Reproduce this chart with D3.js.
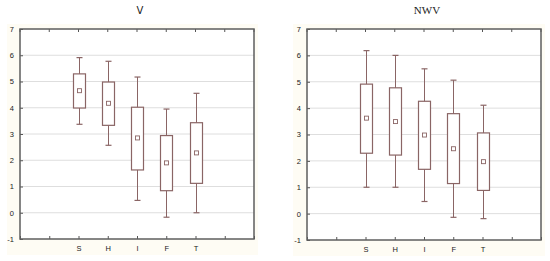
<!DOCTYPE html>
<html>
<head>
<meta charset="utf-8">
<script src="https://cdn.jsdelivr.net/npm/d3@7"></script>
<style>
  body { margin:0; background:#fff; }
  svg { display:block; }
</style>
</head>
<body>
<div id="chart-area"></div>
<script>
// data
var groups = ["S", "H", "I", "F", "T"];
var yTicks = [-1, 0, 1, 2, 3, 4, 5, 6, 7];

// V panel: [whisker low, box low, mean, box high, whisker high]
var vLow     = [3.37, 2.57, 0.47, -0.17, 0.00];
var vQ1      = [3.99, 3.33, 1.63, 0.84, 1.12];
var vMean    = [4.65, 4.17, 2.85, 1.90, 2.28];
var vQ3      = [5.29, 4.98, 4.02, 2.94, 3.43];
var vHigh    = [5.91, 5.77, 5.17, 3.95, 4.55];

// NWV panel
var nLow     = [1.00, 1.00, 0.46, -0.14, -0.19];
var nQ1      = [2.29, 2.22, 1.68, 1.14, 0.88];
var nMean    = [3.62, 3.49, 2.98, 2.46, 1.97];
var nQ3      = [4.91, 4.77, 4.26, 3.79, 3.06];
var nHigh    = [6.18, 6.00, 5.49, 5.06, 4.11];

var svg = d3.select("#chart-area").append("svg")
    .attr("width", 550).attr("height", 261);

var panels = [
  {title:"V", left:20, right:254, top:29, bottom:239,
   bg:[7, 24, 251, 231], low:vLow, q1:vQ1, mean:vMean, q3:vQ3, high:vHigh},
  {title:"NWV", left:307, right:541, top:29, bottom:240,
   bg:[293, 24, 252, 232], low:nLow, q1:nQ1, mean:nMean, q3:nQ3, high:nHigh}
];

panels.forEach(function(p){
  var g = svg.append("g");

  // faint page tint behind the plot
  g.append("rect")
    .attr("x", p.bg[0]).attr("y", p.bg[1])
    .attr("width", p.bg[2]).attr("height", p.bg[3])
    .attr("fill", "#fefcf4");

  var x = d3.scaleLinear().domain([0, 8]).range([p.left, p.right]);
  var y = d3.scaleLinear().domain([-1, 7]).range([p.bottom, p.top]);

  g.append("rect")
    .attr("x", p.left).attr("y", p.top)
    .attr("width", p.right - p.left).attr("height", p.bottom - p.top)
    .attr("fill", "#fff");

  // grid
  g.selectAll(".grid").data(yTicks.slice(1, -1)).enter()
    .append("line")
    .attr("x1", p.left).attr("x2", p.right)
    .attr("y1", function(d){ return y(d); }).attr("y2", function(d){ return y(d); })
    .attr("stroke", "#dedede").attr("stroke-width", 1);

  // y axis
  var leftAxis = d3.axisLeft(y).tickValues(yTicks).tickSize(-3).tickPadding(6)
      .tickFormat(function(d){ return String(d); });
  var ya = g.append("g").attr("transform", "translate(" + p.left + ",0)").call(leftAxis);
  ya.select(".domain").remove();
  ya.selectAll("line").attr("stroke", "#555");
  ya.selectAll("text").attr("font-size", "7.5px").attr("font-family", "'Liberation Sans', Arial, sans-serif")
    .attr("fill", "#222");

  // x axis
  var xIdx = d3.range(0, 9);
  var bottomAxis = d3.axisBottom(x).tickValues(xIdx).tickSize(-3).tickPadding(7)
      .tickFormat(function(d){ return (d >= 2 && d <= 6) ? groups[d - 2] : ""; });
  var xa = g.append("g").attr("transform", "translate(0," + p.bottom + ")").call(bottomAxis);
  xa.select(".domain").remove();
  xa.selectAll("line").attr("stroke", "#555");
  xa.selectAll("text").attr("font-size", "7.5px").attr("font-family", "'Liberation Sans', Arial, sans-serif")
    .attr("fill", "#222");

  // top ticks
  g.selectAll(".ttick").data(xIdx).enter().append("line")
    .attr("x1", function(d){ return x(d); }).attr("x2", function(d){ return x(d); })
    .attr("y1", p.top).attr("y2", p.top + 3)
    .attr("stroke", "#555");

  // frame
  g.append("rect")
    .attr("x", p.left).attr("y", p.top)
    .attr("width", p.right - p.left).attr("height", p.bottom - p.top)
    .attr("fill", "none").attr("stroke", "#5e5e5e").attr("stroke-width", 1.5);

  // boxes
  var col = "#8a6565";
  var bw = 12, cw = 6;
  groups.forEach(function(name, i){
    var cx = Math.round(x(i + 2)) + 0.5;
    // whisker
    g.append("line").attr("x1", cx).attr("x2", cx)
      .attr("y1", y(p.high[i])).attr("y2", y(p.low[i]))
      .attr("stroke", col).attr("stroke-width", 1);
    g.append("line").attr("x1", cx - cw/2).attr("x2", cx + cw/2)
      .attr("y1", y(p.high[i])).attr("y2", y(p.high[i]))
      .attr("stroke", col).attr("stroke-width", 1.2);
    g.append("line").attr("x1", cx - cw/2).attr("x2", cx + cw/2)
      .attr("y1", y(p.low[i])).attr("y2", y(p.low[i]))
      .attr("stroke", col).attr("stroke-width", 1.2);
    // box
    g.append("rect")
      .attr("x", cx - bw/2).attr("y", y(p.q3[i]))
      .attr("width", bw).attr("height", y(p.q1[i]) - y(p.q3[i]))
      .attr("fill", "#fff").attr("stroke", col).attr("stroke-width", 1.2);
    // mean marker
    g.append("rect")
      .attr("x", cx - 2).attr("y", y(p.mean[i]) - 2)
      .attr("width", 4).attr("height", 4)
      .attr("fill", "#fff").attr("stroke", col).attr("stroke-width", 0.9);
  });

  // title
  g.append("text")
    .attr("x", (p.left + p.right) / 2 + 3).attr("y", 14)
    .attr("text-anchor", "middle")
    .attr("font-family", p.title == "V" ? "'DejaVu Sans', sans-serif" : "'Liberation Serif', serif")
    .attr("font-size", p.title == "V" ? "10px" : "11px")
    .attr("fill", "#222")
    .text(p.title);
});
</script>
</body>
</html>
